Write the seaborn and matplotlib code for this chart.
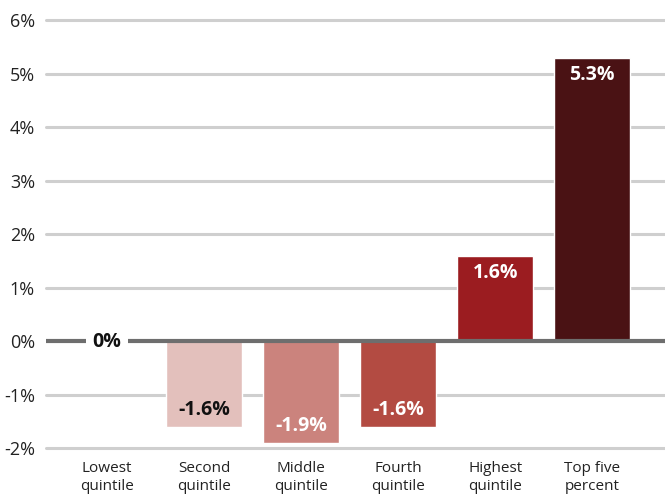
import matplotlib
matplotlib.use("Agg")
import matplotlib.pyplot as plt
import seaborn as sns
import pandas as pd

categories = ["Lowest\nquintile", "Second\nquintile", "Middle\nquintile",
              "Fourth\nquintile", "Highest\nquintile", "Top five\npercent"]
values = [0.0, -1.6, -1.9, -1.6, 1.6, 5.3]
value_labels = ["0%", "-1.6%", "-1.9%", "-1.6%", "1.6%", "5.3%"]
colors = ["#E3C0BC", "#E3C0BC", "#CB837D", "#B34B42", "#9B1C20", "#4A1214"]
label_colors = ["#111111", "#111111", "#FFFFFF", "#FFFFFF", "#FFFFFF", "#FFFFFF"]
yticks = [-2, -1, 0, 1, 2, 3, 4, 5, 6]
ytick_labels = ["-2%", "-1%", "0%", "1%", "2%", "3%", "4%", "5%", "6%"]

sns.set_style("white")
plt.rcParams["font.family"] = ["Open Sans", "DejaVu Sans"]

df = pd.DataFrame({"cat": categories, "val": values})

W, H = 665, 496
fig = plt.figure(figsize=(W / 100, H / 100), dpi=100)
ylo, yhi = -2.05, 6.05
px_per = 53.5
top_px = 20.5 - 0.05 * px_per
bot_px = 448 + 0.05 * px_per
ax = fig.add_axes([46 / W, 1 - bot_px / H, 1 - 46 / W, (bot_px - top_px) / H])

sns.barplot(data=df, x="cat", y="val", hue="cat", palette=colors, legend=False,
            width=0.78, ax=ax, saturation=1, zorder=3)

xlo, xhi = -0.63, 5.75
ax.set_ylim(ylo, yhi)
ax.set_xlim(xlo, xhi)
ax.set_yticks(yticks)
ax.set_yticklabels(ytick_labels, fontsize=13, color="#222222")
ax.tick_params(axis="y", length=0, pad=8)
ax.tick_params(axis="x", length=0, pad=7.5, labelsize=11, labelcolor="#222222")
for t in ax.get_xticklabels():
    t.set_linespacing(1.3)
ax.set_xlabel("")
ax.set_ylabel("")
for s in ax.spines.values():
    s.set_visible(False)

for y in yticks:
    if y == 0:
        continue
    ax.axhline(y, color="#CFCFCF", lw=2.2, zorder=1, clip_on=False)

# zero line, broken around the "0%" label of the first category
gap = 0.215
ax.hlines(0, xlo, 0 - gap, color="#6E6E6E", lw=3, zorder=4)
ax.hlines(0, 0 + gap, xhi, color="#6E6E6E", lw=3, zorder=4)

for i, (v, lab, c) in enumerate(zip(values, value_labels, label_colors)):
    if v == 0:
        ax.annotate(lab, (i, v), xytext=(0, -0.7), textcoords="offset points",
                    ha="center", va="center", fontsize=14, fontweight="bold",
                    color=c, zorder=5)
    elif v > 0:
        ax.annotate(lab, (i, v), xytext=(0, -12.5), textcoords="offset points",
                    ha="center", va="center", fontsize=14, fontweight="bold",
                    color=c, zorder=5)
    else:
        ax.annotate(lab, (i, v), xytext=(0, 12), textcoords="offset points",
                    ha="center", va="center", fontsize=14, fontweight="bold",
                    color=c, zorder=5)

fig.savefig("out.png", dpi=100)
